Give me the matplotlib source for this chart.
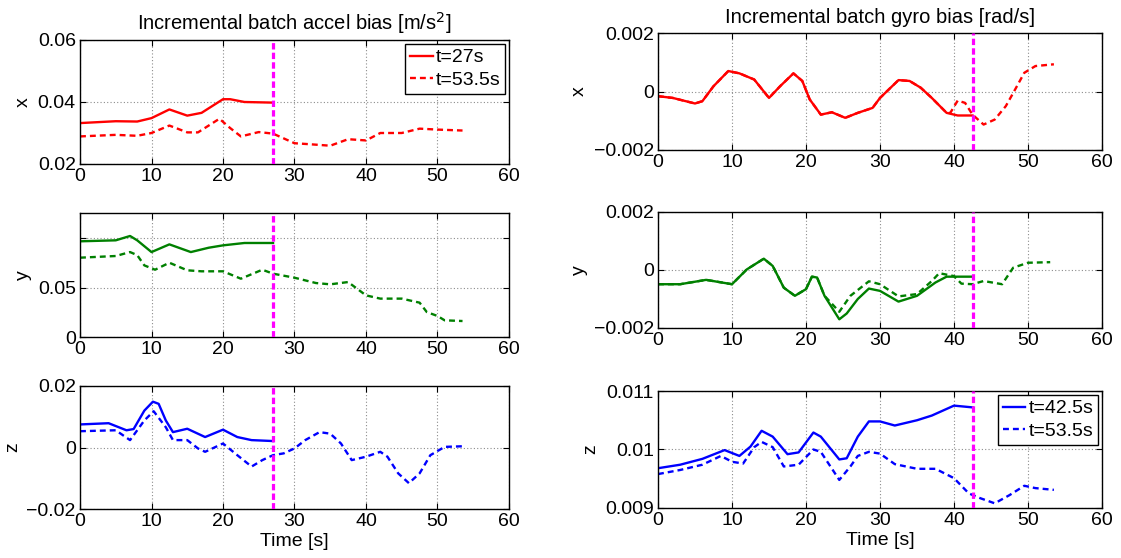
import matplotlib
matplotlib.use('Agg')
import matplotlib.pyplot as plt

plt.rcParams['font.family'] = ['Liberation Sans', 'DejaVu Sans']

# ---------------- data ----------------
# accel x
ax_t1 = [0, 5, 8, 10, 12.5, 15, 17, 20, 21, 23, 27]
ax_v1 = [0.0332, 0.0338, 0.0337, 0.0348, 0.0376, 0.0356, 0.0365, 0.0409, 0.0409, 0.0400, 0.0398]
ax_t2 = [0, 5, 8, 10, 12.5, 15, 16.5, 19.5, 21, 22.5, 25, 27, 30, 32, 35, 37.5, 40, 42, 45, 47.5, 50, 53.5]
ax_v2 = [0.0289, 0.0294, 0.0291, 0.0300, 0.0324, 0.0302, 0.0302, 0.0346, 0.0316, 0.0289, 0.0303,
         0.0298, 0.0267, 0.0264, 0.0259, 0.0280, 0.0276, 0.0300, 0.0300, 0.0314, 0.0311, 0.0308]

# accel y
ay_t1 = [0, 5, 7, 8, 10, 12.5, 15.5, 18, 20, 23, 27]
ay_v1 = [0.0970, 0.0980, 0.1024, 0.0980, 0.0861, 0.0939, 0.0861, 0.0905, 0.0929, 0.0953, 0.0953]
ay_t2 = [0, 5, 7, 8, 9, 10.5, 12.5, 15, 17, 20, 22.5, 25.5, 27, 30, 33, 35, 37.5, 40, 42, 45,
         47.5, 48.5, 50, 51, 53.5]
ay_v2 = [0.0804, 0.0821, 0.0861, 0.0830, 0.0726, 0.0682, 0.0753, 0.0676, 0.0666, 0.0666, 0.0591,
         0.0682, 0.0642, 0.0601, 0.0547, 0.0534, 0.0557, 0.0422, 0.0389, 0.0389, 0.0348, 0.0253,
         0.0213, 0.0169, 0.0162]

# accel z
az_t1 = [0, 4, 6.5, 7.5, 9, 10.2, 11, 12, 13, 15, 17.5, 20, 22, 24, 27]
az_v1 = [0.0075, 0.0079, 0.0056, 0.0060, 0.0120, 0.0149, 0.0142, 0.0088, 0.0050, 0.0061, 0.0034,
         0.0058, 0.0034, 0.0024, 0.0021]
az_t2 = [0, 5, 7, 8, 9, 10.3, 12, 13, 15, 16.5, 17.5, 20, 22, 24, 25.5, 27, 28.5, 30, 31.5, 33.5,
         35, 36.5, 38, 40, 42, 43, 44.5, 46, 47.5, 49, 51, 53.5]
az_v2 = [0.0053, 0.0056, 0.0024, 0.0056, 0.0088, 0.0118, 0.0066, 0.0024, 0.0024, -0.0003, -0.0014,
         0.0013, -0.0025, -0.0062, -0.0041, -0.0025, -0.0019, -0.0003, 0.0024, 0.0050, 0.0045,
         0.0013, -0.0041, -0.0030, -0.0014, -0.0030, -0.0084, -0.0116, -0.0084, -0.0025, 0.0002, 0.0004]

# gyro x
gx_t1 = [0, 2, 5, 6, 7.5, 9.5, 11, 13, 15, 16.5, 18.3, 19.5, 20.5, 22, 23.5, 25.3, 27, 29, 30,
         32.5, 34, 35.5, 37, 39, 40.5, 42.5]
gx_v1 = [-0.00016, -0.00022, -0.00041, -0.00033, 0.00018, 0.00070, 0.00062, 0.00041, -0.00022,
         0.00018, 0.00062, 0.00036, -0.00027, -0.00079, -0.00071, -0.00090, -0.00073, -0.00056,
         -0.00022, 0.00039, 0.00036, 0.00013, -0.00022, -0.00073, -0.00082, -0.00082]
gx_t2 = gx_t1[:24] + [39.5, 40.5, 41.5, 42.5, 44, 45.5, 47, 48, 49.5, 51, 53.5]
gx_v2 = gx_v1[:24] + [-0.00073, -0.00031, -0.00039, -0.00079, -0.00113, -0.00096, -0.00050,
                      -0.00005, 0.00064, 0.00087, 0.00093]

# gyro y
gy_t1 = [0, 3, 6.5, 10, 12, 14.3, 15.5, 17, 18.5, 20, 20.8, 21.5, 22.5, 24.5, 25.5, 27, 28.5,
         30, 32.5, 35, 37.5, 39, 42.5]
gy_v1 = [-0.00049, -0.00049, -0.00034, -0.00049, 0.00002, 0.00039, 0.00014, -0.00061, -0.00089,
         -0.00066, -0.00023, -0.00026, -0.00089, -0.00170, -0.00150, -0.00100, -0.00064, -0.00072,
         -0.00109, -0.00089, -0.00043, -0.00023, -0.00023]
gy_t2 = gy_t1[:13] + [24.5, 26, 28.5, 30, 32.5, 35, 37, 38, 40, 41, 42.5, 44, 46.5, 48, 50, 53]
gy_v2 = gy_v1[:13] + [-0.00144, -0.00089, -0.00039, -0.00049, -0.00091, -0.00083, -0.00038,
                      -0.00011, -0.00021, -0.00047, -0.00049, -0.00038, -0.00049, 0.00008,
                      0.00025, 0.00027]

# gyro z
gz_t1 = [0, 3, 6, 9, 11, 12.5, 14, 15.5, 17.5, 19, 21, 22, 24.5, 25.5, 27, 28.5, 30, 32, 35,
         37, 40, 42.5]
gz_v1 = [0.00968, 0.00974, 0.00984, 0.00999, 0.00989, 0.01005, 0.01032, 0.01022, 0.00992,
         0.00995, 0.01029, 0.01022, 0.00983, 0.00985, 0.01022, 0.01048, 0.01048, 0.01041,
         0.01050, 0.01058, 0.01075, 0.01072]
gz_t2 = [0, 3, 6, 8.5, 10, 11.5, 13, 14, 15.5, 17, 19, 21, 22, 24.5, 26, 27, 28.5, 30, 32, 35,
         37.5, 40, 42, 43.5, 45.5, 47.5, 49.5, 51, 53.5]
gz_v2 = [0.00958, 0.00965, 0.00974, 0.00989, 0.00979, 0.00976, 0.01004, 0.01013, 0.01004,
         0.00971, 0.00974, 0.01000, 0.00996, 0.00948, 0.00971, 0.00989, 0.00996, 0.00993,
         0.00975, 0.00967, 0.00967, 0.00951, 0.00925, 0.00917, 0.00908, 0.00922, 0.00938,
         0.00934, 0.00931]

cut_accel = 27
cut_gyro = 42.5

W, H = 1121, 558
fig = plt.figure(figsize=(W / 100, H / 100), dpi=100)

fs_tick = 14
fs_lab = 14


def add_axes(x0, x1, ytop, ybot):
    # pixel box -> figure fraction
    return fig.add_axes([x0 / W, 1 - ybot / H, (x1 - x0) / W, (ybot - ytop) / H])


def style(ax, ylabel, ylim, yticks, yticklabels=None):
    ax.set_xlim(0, 60)
    ax.set_xticks([0, 10, 20, 30, 40, 50, 60])
    ax.set_ylim(*ylim)
    ax.set_yticks(yticks)
    if yticklabels is not None:
        ax.set_yticklabels(yticklabels)
    ax.grid(True, linestyle=(0, (1, 2)), color='#8c8c8c', linewidth=0.8)
    ax.tick_params(direction='in', top=True, right=True, length=4, labelsize=fs_tick, pad=3)
    ax.set_ylabel(ylabel, fontsize=fs_lab, labelpad=4)
    for s in ax.spines.values():
        s.set_linewidth(1.0)


def legend(ax):
    leg = ax.legend(loc='upper right', fontsize=fs_tick, fancybox=False, edgecolor='black',
                    framealpha=1, borderaxespad=0.2, handlelength=1.15, handletextpad=0.15,
                    borderpad=0.25, labelspacing=0.25)
    leg.get_frame().set_linewidth(1.0)


dash = (0, (2.5, 1.7))
mag = dict(color='#ff00ff', linestyle=(0, (2.0, 1.0)), linewidth=2.3, zorder=5)

# left column: accel
a1 = add_axes(80, 509, 40, 164)
a1.plot(ax_t1, ax_v1, color='red', lw=1.7, label='t=27s')
a1.plot(ax_t2, ax_v2, color='red', lw=1.7, linestyle=dash, label='t=53.5s')
a1.axvline(cut_accel, **mag)
style(a1, 'x', (0.02, 0.06), [0.02, 0.04, 0.06], ['0.02', '0.04', '0.06'])
a1.set_title('Incremental batch accel bias [m/s$^2$]', fontsize=14.5, pad=7)
legend(a1)

a2 = add_axes(80, 509, 213, 337)
a2.plot(ay_t1, ay_v1, color='#008000', lw=1.7)
a2.plot(ay_t2, ay_v2, color='#008000', lw=1.7, linestyle=dash)
a2.axvline(cut_accel, **mag)
style(a2, 'y', (0, 0.1257), [0, 0.05, 0.1], ['0', '0.05', ''])

a3 = add_axes(80, 509, 386, 509)
a3.plot(az_t1, az_v1, color='blue', lw=1.7)
a3.plot(az_t2, az_v2, color='blue', lw=1.7, linestyle=dash)
a3.axvline(cut_accel, **mag)
style(a3, 'z', (-0.02, 0.02), [-0.02, 0, 0.02], ['\u22120.02', '0', '0.02'])
a3.set_xlabel('Time [s]', fontsize=fs_tick, labelpad=2)

# right column: gyro
g1 = add_axes(658, 1102, 33, 150)
g1.plot(gx_t1, gx_v1, color='red', lw=1.7)
g1.plot(gx_t2, gx_v2, color='red', lw=1.7, linestyle=dash)
g1.axvline(cut_gyro, **mag)
style(g1, 'x', (-0.002, 0.002), [-0.002, 0, 0.002], ['\u22120.002', '0', '0.002'])
g1.set_title('Incremental batch gyro bias [rad/s]', fontsize=14.5, pad=7)

g2 = add_axes(658, 1102, 212, 328)
g2.plot(gy_t1, gy_v1, color='#008000', lw=1.7)
g2.plot(gy_t2, gy_v2, color='#008000', lw=1.7, linestyle=dash)
g2.axvline(cut_gyro, **mag)
style(g2, 'y', (-0.002, 0.002), [-0.002, 0, 0.002], ['\u22120.002', '0', '0.002'])

g3 = add_axes(658, 1102, 391, 508)
g3.plot(gz_t1, gz_v1, color='blue', lw=1.7, label='t=42.5s')
g3.plot(gz_t2, gz_v2, color='blue', lw=1.7, linestyle=dash, label='t=53.5s')
g3.axvline(cut_gyro, **mag)
style(g3, 'z', (0.009, 0.011), [0.009, 0.01, 0.011], ['0.009', '0.01', '0.011'])
g3.set_xlabel('Time [s]', fontsize=fs_tick, labelpad=2)
legend(g3)

fig.savefig('out.png', dpi=100)
